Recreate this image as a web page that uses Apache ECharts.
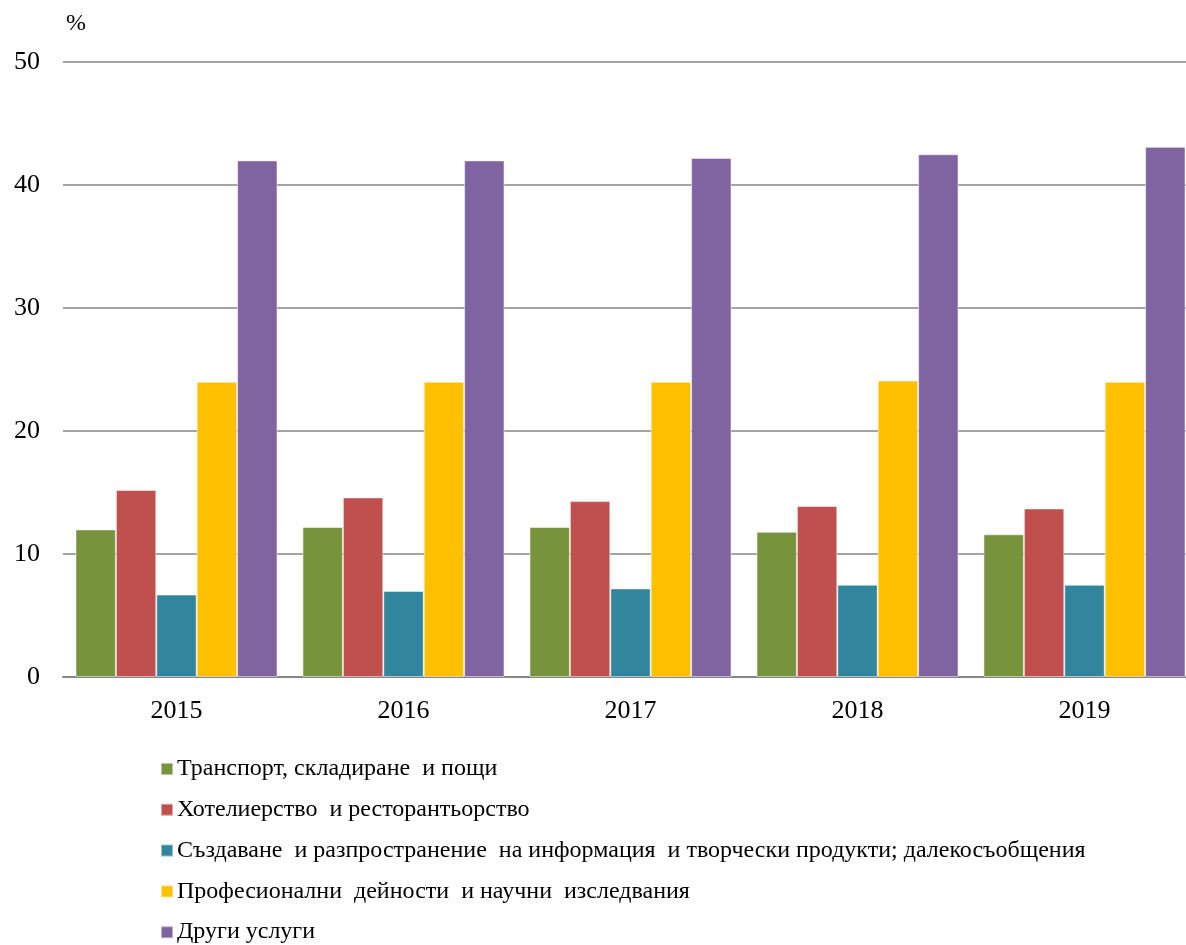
<!DOCTYPE html>
<html>
<head>
<meta charset="utf-8">
<script src="https://cdn.jsdelivr.net/npm/echarts@6/dist/echarts.min.js"></script>
<style>html,body{margin:0;padding:0;background:#fff}#c{width:1186px;height:945px}</style>
</head>
<body>
<div id="c"></div>
<script>
const categories = ['2015', '2016', '2017', '2018', '2019'];
const seriesNames = [
  'Транспорт, складиране  и пощи',
  'Хотелиерство  и ресторантьорство',
  'Създаване  и разпространение  на информация  и творчески продукти; далекосъобщения',
  'Професионални  дейности  и научни  изследвания',
  'Други услуги'
];
const transport = [12.0, 12.2, 12.2, 11.8, 11.6];
const hotels = [15.2, 14.6, 14.3, 13.9, 13.7];
const info = [6.7, 7.0, 7.2, 7.5, 7.5];
const professional = [24.0, 24.0, 24.0, 24.1, 24.0];
const other = [42.0, 42.0, 42.2, 42.5, 43.1];
const yTicks = { min: 0, max: 50, interval: 10 };
const colors = ['#77933C', '#C0504D', '#31859C', '#FFC000', '#8064A2'];
const values = [transport, hotels, info, professional, other];

const font = '"Liberation Serif", "Times New Roman", serif';
const chart = echarts.init(document.getElementById('c'), null, { renderer: 'canvas' });
chart.setOption({
  animation: false,
  backgroundColor: '#fff',
  graphic: [{
    type: 'text', left: 66, top: 12,
    style: { text: '%', font: '24px ' + font, fill: '#000' }
  }],
  grid: { left: 63, top: 62, width: 1135, height: 615, containLabel: false, outerBoundsMode: 'none' },
  legend: {
    orient: 'vertical', left: 160, top: 757, height: 188, padding: 0,
    itemWidth: 12, itemHeight: 12, itemGap: 16.8,
    icon: 'rect',
    textStyle: { fontFamily: font, fontSize: 24, color: '#000', padding: [0, 0, 0, -1] },
    data: seriesNames
  },
  xAxis: {
    type: 'category', data: categories,
    axisLine: { lineStyle: { color: '#868686', width: 2 } },
    axisTick: { show: false },
    axisLabel: { fontFamily: font, fontSize: 26, color: '#000', margin: 21 }
  },
  yAxis: {
    type: 'value', min: yTicks.min, max: yTicks.max, interval: yTicks.interval,
    axisLine: { show: false }, axisTick: { show: false },
    splitLine: { lineStyle: { color: '#868686', width: 1.5 } },
    axisLabel: { fontFamily: font, fontSize: 26, color: '#000', margin: 23 }
  },
  series: seriesNames.map((n, i) => ({
    name: n, type: 'bar', data: values[i],
    barGap: '0%', barCategoryGap: '11%',
    itemStyle: { color: colors[i], borderColor: 'rgba(255,255,255,0.5)', borderWidth: 1 }
  }))
});
</script>
</body>
</html>
